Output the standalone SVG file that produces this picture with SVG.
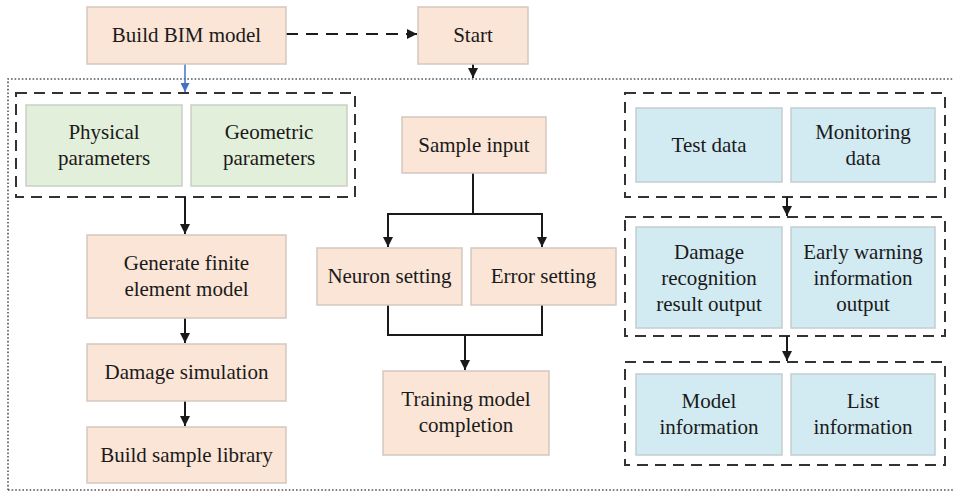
<svg xmlns="http://www.w3.org/2000/svg" width="953" height="492" viewBox="0 0 953 492">
<defs>
<style>
.p{fill:#FBE5D6;stroke:#D3C7BF;stroke-width:1.5}
.g{fill:#E2EFDA;stroke:#C9CFC5;stroke-width:1.5}
.b{fill:#D2EBF2;stroke:#C3CDD0;stroke-width:1.5}
.grp{fill:none;stroke:#333;stroke-width:2;stroke-dasharray:11 7}
.t{font-size:21px;fill:#1a1a1a;text-anchor:middle}
.c{fill:none;stroke:#1a1a1a;stroke-width:2}
</style>
<marker id="ah" viewBox="0 0 10 10" refX="10" refY="5" markerWidth="5" markerHeight="5" orient="auto" markerUnits="strokeWidth"><path d="M0,0L10,5L0,10z" fill="#1a1a1a"/></marker>
<marker id="ahb" viewBox="0 0 10 10" refX="10" refY="5" markerWidth="6" markerHeight="6" orient="auto" markerUnits="strokeWidth"><path d="M0,0L10,5L0,10z" fill="#4472C4"/></marker>
</defs>
<rect width="953" height="492" fill="#fff"/>
<path d="M8,490 V79 H953 M8,490 H953" fill="none" stroke="#555" stroke-width="1.6" stroke-dasharray="1.6 2"/>
<g id="groups">
<rect class="grp" x="16" y="93" width="339" height="104"/>
<rect class="grp" x="625" y="93" width="320" height="104"/>
<rect class="grp" x="625" y="217" width="320" height="119"/>
<rect class="grp" x="625" y="362" width="320" height="103"/>
</g>
<g id="connectors">
<line x1="286" y1="34" x2="417" y2="34" class="c" stroke-dasharray="12 8" marker-end="url(#ah)"/>
<line x1="185" y1="64" x2="185" y2="92" fill="none" stroke="#4472C4" stroke-width="1.5" marker-end="url(#ahb)"/>
<line x1="473" y1="64" x2="473" y2="78" class="c" marker-end="url(#ah)"/>
<line x1="185" y1="197" x2="185" y2="234" class="c" marker-end="url(#ah)"/>
<line x1="185" y1="318" x2="185" y2="343" class="c" marker-end="url(#ah)"/>
<line x1="185" y1="401" x2="185" y2="426" class="c" marker-end="url(#ah)"/>
<path d="M473,173 V214" class="c"/>
<path d="M473,214 H388 V247" class="c" marker-end="url(#ah)"/>
<path d="M473,214 H542 V247" class="c" marker-end="url(#ah)"/>
<path d="M388,305 V335 H542 V305" class="c"/>
<path d="M465,335 V370" class="c" marker-end="url(#ah)"/>
<line x1="787" y1="197" x2="787" y2="216" class="c" marker-end="url(#ah)"/>
<line x1="787" y1="336" x2="787" y2="361" class="c" marker-end="url(#ah)"/>
</g>
<g font-family="'Liberation Serif', 'DejaVu Serif', 'Times New Roman', serif">
<g id="build-bim"><rect class="p" x="87" y="7" width="199" height="57"/><text class="t" x="186.5" y="42">Build BIM model</text></g>
<g id="start"><rect class="p" x="418" y="7" width="110" height="57"/><text class="t" x="473" y="42">Start</text></g>
<g id="physical"><rect class="g" x="26" y="105" width="156" height="81"/><text class="t" x="104" y="139">Physical</text><text class="t" x="104" y="165">parameters</text></g>
<g id="geometric"><rect class="g" x="191" y="105" width="156" height="81"/><text class="t" x="269" y="139">Geometric</text><text class="t" x="269" y="165">parameters</text></g>
<g id="generate"><rect class="p" x="87" y="235" width="199" height="83"/><text class="t" x="186.5" y="270">Generate finite</text><text class="t" x="186.5" y="296">element model</text></g>
<g id="damage-sim"><rect class="p" x="87" y="344" width="199" height="57"/><text class="t" x="186.5" y="379">Damage simulation</text></g>
<g id="sample-lib"><rect class="p" x="87" y="427" width="199" height="56"/><text class="t" x="186.5" y="462">Build sample library</text></g>
<g id="sample-input"><rect class="p" x="402" y="117" width="144" height="56"/><text class="t" x="474" y="152">Sample input</text></g>
<g id="neuron"><rect class="p" x="317" y="248" width="145" height="57"/><text class="t" x="389.5" y="283">Neuron setting</text></g>
<g id="error"><rect class="p" x="471" y="248" width="145" height="57"/><text class="t" x="543.5" y="283">Error setting</text></g>
<g id="training"><rect class="p" x="383" y="371" width="166" height="84"/><text class="t" x="466" y="406">Training model</text><text class="t" x="466" y="432">completion</text></g>
<g id="test-data"><rect class="b" x="636" y="108" width="146" height="74"/><text class="t" x="709" y="152">Test data</text></g>
<g id="monitoring"><rect class="b" x="791" y="108" width="144" height="74"/><text class="t" x="863" y="139">Monitoring</text><text class="t" x="863" y="165">data</text></g>
<g id="damage-rec"><rect class="b" x="636" y="227" width="146" height="101"/><text class="t" x="709" y="259">Damage</text><text class="t" x="709" y="285">recognition</text><text class="t" x="709" y="311">result output</text></g>
<g id="early-warning"><rect class="b" x="791" y="227" width="144" height="101"/><text class="t" x="863" y="259">Early warning</text><text class="t" x="863" y="285">information</text><text class="t" x="863" y="311">output</text></g>
<g id="model-info"><rect class="b" x="636" y="374" width="146" height="81"/><text class="t" x="709" y="408">Model</text><text class="t" x="709" y="434">information</text></g>
<g id="list-info"><rect class="b" x="791" y="374" width="144" height="81"/><text class="t" x="863" y="408">List</text><text class="t" x="863" y="434">information</text></g>
</g>
</svg>
